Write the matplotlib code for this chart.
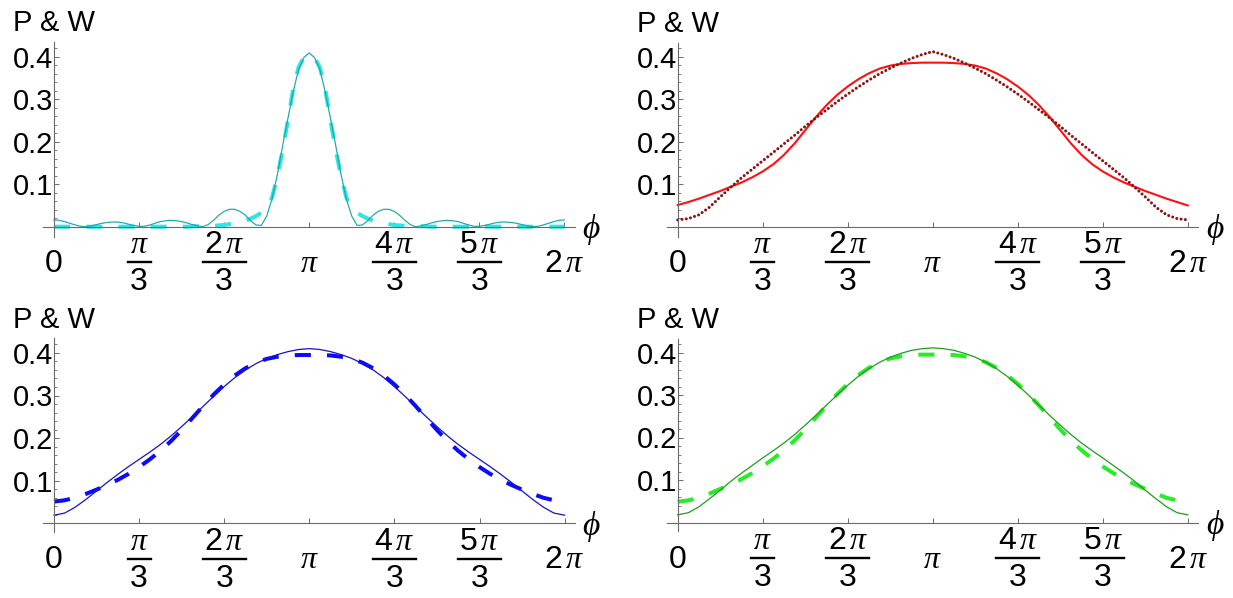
import numpy as np
import matplotlib
matplotlib.use("Agg")
import matplotlib.pyplot as plt
from matplotlib.ticker import FixedLocator
from matplotlib.lines import Line2D
from matplotlib.transforms import ScaledTranslation

plt.rcParams['font.family'] = ['Liberation Sans', 'DejaVu Sans']
plt.rcParams['mathtext.fontset'] = 'custom'
plt.rcParams['mathtext.rm'] = 'Liberation Sans'
plt.rcParams['mathtext.it'] = 'Liberation Serif:italic'
plt.rcParams['mathtext.bf'] = 'Liberation Sans:bold'

# ---------------- data ----------------
phi_fine = np.linspace(0, 2 * np.pi, 97)
phi = np.linspace(0, 2 * np.pi, 49)

tl_solid = [0.016, 0.015, 0.012, 0.008, 0.004, 0.001, 0.000, 0.002, 0.005, 0.008,
            0.010, 0.011, 0.011, 0.009, 0.006, 0.003, 0.001, 0.001, 0.004, 0.008,
            0.012, 0.014, 0.015, 0.014, 0.012, 0.009, 0.005, 0.002, 0.000, 0.005,
            0.015, 0.027, 0.036, 0.041, 0.041, 0.036, 0.027, 0.014, 0.004, 0.003,
            0.025, 0.065, 0.122, 0.190, 0.255, 0.318, 0.370, 0.398, 0.409,
            0.398, 0.370, 0.318, 0.255, 0.190, 0.122, 0.065, 0.025, 0.003, 0.004,
            0.014, 0.027, 0.036, 0.041, 0.041, 0.036, 0.027, 0.015, 0.005, 0.000,
            0.002, 0.005, 0.009, 0.012, 0.014, 0.015, 0.014, 0.012, 0.008, 0.004,
            0.001, 0.001, 0.003, 0.006, 0.009, 0.011, 0.011, 0.010, 0.008, 0.005,
            0.002, 0.000, 0.001, 0.004, 0.008, 0.012, 0.015, 0.016]

tl_dashed = [0.0, 0.0, 0.0, 0.0, 0.0, 0.0, 0.0, 0.0, 0.0, 0.0,
             0.0, 0.0, 0.0, 0.0, 0.0, 0.0, 0.0, 0.0, 0.0, 0.0,
             0.0, 0.0, 0.0, 0.0, 0.0, 0.0,
             0.001, 0.001, 0.001, 0.002, 0.002, 0.003, 0.004, 0.006, 0.008, 0.010,
             0.014, 0.019, 0.025, 0.033, 0.046, 0.068, 0.118, 0.180, 0.250, 0.325,
             0.375, 0.398, 0.400,
             0.398, 0.375, 0.325, 0.250, 0.180, 0.118, 0.068, 0.046, 0.033, 0.025,
             0.019, 0.014, 0.010, 0.008, 0.006, 0.004, 0.003, 0.002, 0.002, 0.001,
             0.001, 0.001,
             0.0, 0.0, 0.0, 0.0, 0.0, 0.0, 0.0, 0.0, 0.0, 0.0,
             0.0, 0.0, 0.0, 0.0, 0.0, 0.0, 0.0, 0.0, 0.0, 0.0,
             0.0, 0.0, 0.0, 0.0, 0.0, 0.0]

tr_solid = [0.051, 0.058, 0.066, 0.075, 0.084, 0.094, 0.104, 0.116, 0.130, 0.147,
            0.169, 0.196, 0.227, 0.258, 0.286, 0.310, 0.330, 0.347, 0.361, 0.372,
            0.379, 0.383, 0.385, 0.386, 0.386,
            0.386, 0.385, 0.383, 0.379, 0.372, 0.361, 0.347, 0.330, 0.310, 0.286,
            0.258, 0.227, 0.196, 0.169, 0.147, 0.130, 0.116, 0.104, 0.094, 0.084,
            0.075, 0.066, 0.058, 0.050]

tr_dotted = [0.016, 0.019, 0.028, 0.046, 0.070, 0.093, 0.115, 0.135, 0.155, 0.175,
             0.195, 0.215, 0.236, 0.256, 0.275, 0.294, 0.312, 0.329, 0.345, 0.360,
             0.373, 0.385, 0.396, 0.405, 0.412,
             0.405, 0.396, 0.385, 0.373, 0.360, 0.345, 0.329, 0.312, 0.294, 0.275,
             0.256, 0.236, 0.215, 0.195, 0.175, 0.155, 0.135, 0.115, 0.093, 0.070,
             0.046, 0.028, 0.019, 0.016]

bl_solid = [0.019, 0.024, 0.038, 0.056, 0.076, 0.096, 0.115, 0.133, 0.150, 0.167,
            0.185, 0.205, 0.227, 0.250, 0.274, 0.298, 0.321, 0.342, 0.360, 0.375,
            0.387, 0.396, 0.403, 0.408, 0.410,
            0.408, 0.403, 0.396, 0.387, 0.375, 0.360, 0.342, 0.321, 0.298, 0.274,
            0.250, 0.227, 0.205, 0.185, 0.167, 0.150, 0.133, 0.115, 0.096, 0.076,
            0.056, 0.038, 0.024, 0.019]

bl_dashed = [0.051, 0.054, 0.060, 0.069, 0.079, 0.090, 0.102, 0.116, 0.132, 0.150,
             0.170, 0.193, 0.219, 0.247, 0.275, 0.302, 0.326, 0.347, 0.364, 0.377,
             0.386, 0.391, 0.394, 0.395, 0.395,
             0.395, 0.394, 0.391, 0.386, 0.377, 0.364, 0.347, 0.326, 0.302, 0.275,
             0.247, 0.219, 0.193, 0.170, 0.150, 0.132, 0.116, 0.102, 0.090, 0.079,
             0.069, 0.060, 0.054, 0.051]

br_solid = [0.018, 0.023, 0.037, 0.056, 0.076, 0.097, 0.116, 0.134, 0.152, 0.169,
            0.187, 0.207, 0.229, 0.252, 0.276, 0.300, 0.323, 0.344, 0.362, 0.377,
            0.389, 0.398, 0.405, 0.409, 0.411,
            0.409, 0.405, 0.398, 0.389, 0.377, 0.362, 0.344, 0.323, 0.300, 0.276,
            0.252, 0.229, 0.207, 0.187, 0.169, 0.152, 0.134, 0.116, 0.097, 0.076,
            0.056, 0.037, 0.023, 0.018]

br_dashed = [0.049, 0.052, 0.058, 0.068, 0.079, 0.090, 0.102, 0.116, 0.132, 0.150,
             0.170, 0.193, 0.219, 0.247, 0.275, 0.302, 0.326, 0.347, 0.364, 0.377,
             0.386, 0.391, 0.394, 0.395, 0.395,
             0.395, 0.394, 0.391, 0.386, 0.377, 0.364, 0.347, 0.326, 0.302, 0.275,
             0.247, 0.219, 0.193, 0.170, 0.150, 0.132, 0.116, 0.102, 0.090, 0.079,
             0.068, 0.058, 0.052, 0.049]

xtick_pos = [0, np.pi / 3, 2 * np.pi / 3, np.pi, 4 * np.pi / 3, 5 * np.pi / 3, 2 * np.pi]
xtick_num = ['0', r'$\pi$', r'$2\,\pi$', r'$\pi$', r'$4\,\pi$', r'$5\,\pi$', r'$2\,\pi$']
xtick_den = [None, '3', '3', None, '3', '3', None]
ytick_pos = [0.1, 0.2, 0.3, 0.4]
ytick_lab = ['0.1', '0.2', '0.3', '0.4']
yminor_pos = [0.02, 0.04, 0.06, 0.08, 0.12, 0.14, 0.16, 0.18, 0.22, 0.24, 0.26,
              0.28, 0.32, 0.34, 0.36, 0.38, 0.42]
y_label = 'P & W'
x_label = r'$\phi$'

# ---------------- figure ----------------
W, H = 1233, 598
fig = plt.figure(figsize=(W / 100, H / 100), dpi=100)
AX_COL = '#6a6a6a'
XT_SIZE = 23


def make_panel(x0, x2pi, yaxis, top, bottom, left, right, yscale):
    ax = fig.add_axes([left / W, 1 - bottom / H, (right - left) / W, (bottom - top) / H])
    pxr = (x2pi - x0) / (2 * np.pi)
    ax.set_xlim((left - x0) / pxr, (right - x0) / pxr)
    ax.set_ylim(-(bottom - yaxis) / yscale, (yaxis - top) / yscale)
    ax.patch.set_visible(False)
    for s in ('top', 'right'):
        ax.spines[s].set_visible(False)
    for s in ('left', 'bottom'):
        ax.spines[s].set_position(('data', 0))
        ax.spines[s].set_color(AX_COL)
        ax.spines[s].set_linewidth(0.8)
    ax.set_xticks(xtick_pos)
    ax.set_xticklabels([])
    ax.set_yticks(ytick_pos)
    ax.set_yticklabels(ytick_lab)
    ax.yaxis.set_minor_locator(FixedLocator(yminor_pos))
    ax.tick_params(axis='x', which='major', direction='in', length=3.5, width=0.7,
                   color=AX_COL, labelbottom=False)
    ax.tick_params(axis='y', which='major', direction='in', length=3.5, width=0.7,
                   color=AX_COL, labelsize=21, pad=0.5)
    ax.tick_params(axis='y', which='minor', direction='in', length=2, width=0.6,
                   color=AX_COL)

    def tr(dy):
        return ax.transData + ScaledTranslation(0, -dy / 100, fig.dpi_scale_trans)

    for x, num, den in zip(xtick_pos, xtick_num, xtick_den):
        if den is None:
            ax.text(x, 0, num, transform=tr(45), ha='center', va='baseline',
                    fontsize=XT_SIZE, clip_on=False)
        else:
            ax.text(x, 0, num, transform=tr(26.6), ha='center', va='baseline',
                    fontsize=XT_SIZE, clip_on=False)
            ax.text(x, 0, den, transform=tr(63.3), ha='center', va='baseline',
                    fontsize=XT_SIZE, clip_on=False)
            bw = 23 if num == r'$\pi$' else 43
            hw = bw / 2 / pxr
            ax.add_line(Line2D([x - hw, x + hw], [0, 0], transform=tr(35.6),
                               color='black', lw=1.7, clip_on=False))
    fig.text(x0 / W, 1 - (top - 10.5) / H, y_label, ha='center', va='baseline',
             fontsize=21)
    fig.text((x2pi + 27) / W, 1 - (yaxis + 3) / H, x_label, ha='center',
             va='center', fontsize=24)
    return ax


ax1 = make_panel(54, 564.4, 226.7, 41.7, 236.7, 43, 575, 425)
ax2 = make_panel(677.7, 1187.8, 226.7, 42.7, 236.7, 666.7, 1198.3, 425)
ax3 = make_panel(54, 564.6, 523.3, 338.3, 532, 43, 575, 426)
ax4 = make_panel(677.7, 1187.8, 522.5, 339, 531, 666.7, 1198.3, 425)

dash_style = (0, (4.0, 4.0))

ax1.plot(phi_fine, tl_dashed, color='#2ee6e6', lw=2.9, linestyle=dash_style)
ax1.plot(phi_fine, tl_solid, color='#17a8a8', lw=0.85)

ax2.plot(phi, tr_solid, color='#ff1010', lw=1.5)
ax2.plot(phi, tr_dotted, color='#8a1414', lw=2.2, linestyle=(0, (0.01, 1.4)),
         dash_capstyle='round')

ax3.plot(phi, bl_dashed, color='#0a0aff', lw=2.9, linestyle=dash_style)
ax3.plot(phi, bl_solid, color='#1414c4', lw=0.9)

ax4.plot(phi, br_dashed, color='#28ec28', lw=2.9, linestyle=dash_style)
ax4.plot(phi, br_solid, color='#1c9e1c', lw=0.9)

fig.savefig('out.png', dpi=100)
